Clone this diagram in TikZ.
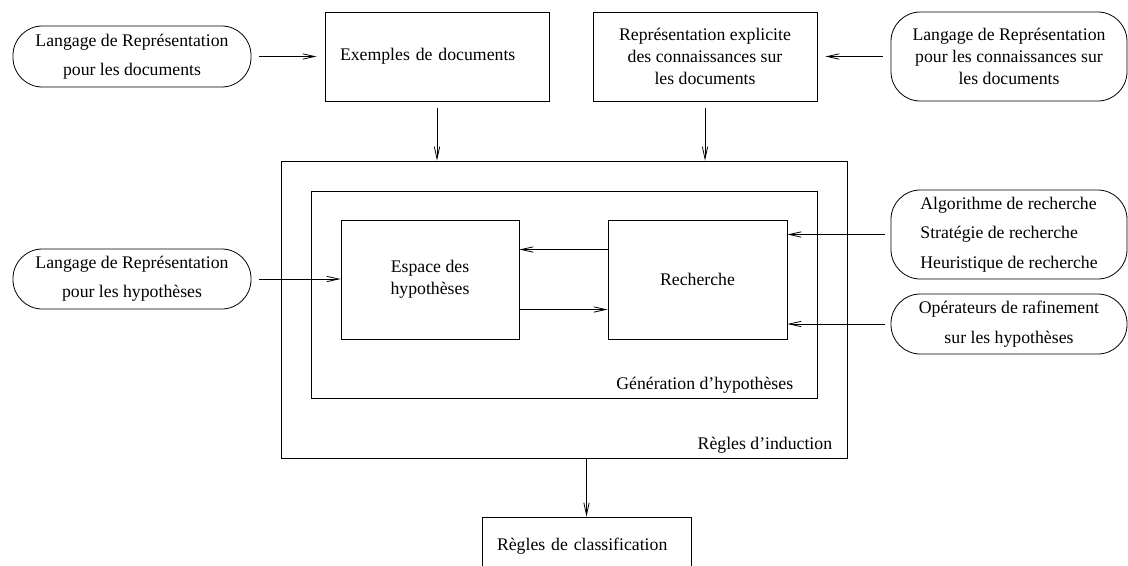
\documentclass[tikz,border=0pt]{standalone}
\usepackage{fontspec}
\setmainfont{Liberation Serif}
\usepackage{tikz}
\usetikzlibrary{arrows.meta,positioning}

\begin{document}
\begin{tikzpicture}
		[x=0.75pt,y=-0.75pt,
		every node/.style={font=\fontsize{13.3pt}{16.5pt}\selectfont},
		box/.style={draw,line width=0.6pt,inner sep=0pt,align=center},
		pill/.style={draw,line width=0.6pt,rounded corners=22pt,inner sep=0pt,align=center,
			font=\fontsize{13.3pt}{22pt}\selectfont},
		tag/.style={inner sep=0pt,anchor=east},
		flow/.style={line width=0.6pt,-{Straight Barb[length=9pt,width=4pt]}}]
		\useasboundingbox (0,0) rectangle (1128,565);
		\node[pill,minimum width=178.5pt,minimum height=45.75pt] (lrdoc) at (132,56.5)
			{Langage de Repr\'esentation\\pour les documents};
		\node[box,minimum width=168pt,minimum height=66.75pt,text width=145.5pt,align=left] (exdoc) at (437,56.5)
			{Exemples de documents};
		\node[box,minimum width=168pt,minimum height=66.75pt] (repexp) at (705,56.5)
			{Repr\'esentation explicite\\des connaissances sur\\les documents};
		\node[pill,minimum width=177pt,minimum height=66.75pt,font=\fontsize{13.3pt}{16.5pt}\selectfont] (lrcon) at (1009,56.5)
			{Langage de Repr\'esentation\\pour les connaissances sur\\les documents};
		\node[box,minimum width=424.5pt,minimum height=222.75pt] (induction) at (564,309.5) {};
		\node[box,minimum width=379.5pt,minimum height=155.25pt] (generation) at (564,294.5) {};
		\node[box,minimum width=133.5pt,minimum height=89.25pt] (espace) at (430,279.5)
			{Espace des\\hypoth\`eses};
		\node[box,minimum width=134.25pt,minimum height=89.25pt] (recherche) at (697.5,279.5)
			{Recherche};
		\node[pill,minimum width=178.5pt,minimum height=45pt] (lrhyp) at (132,279)
			{Langage de Repr\'esentation\\pour les hypoth\`eses};
		\node[pill,minimum width=177pt,minimum height=66.75pt,align=left] (algo) at (1009,234.5)
			{Algorithme de recherche\\Strat\'egie de recherche\\Heuristique de recherche};
		\node[pill,minimum width=177pt,minimum height=45pt] (oper) at (1009,324)
			{Op\'erateurs de rafinement\\sur les hypoth\`eses};
		\node[box,minimum width=156.75pt,minimum height=43.5pt,text width=134.25pt,align=left] (classif) at (586.5,546)
			{R\`egles de classification};
		\node[tag] (indlabel) at ([xshift=-11.25pt,yshift=9.75pt]induction.south east)
			{R\`egles d'induction};
		\node[tag] (genlabel) at ([xshift=-18pt,yshift=9.75pt]generation.south east)
			{G\'en\'eration d'hypoth\`eses};
		\draw[flow,shorten <=6pt,shorten >=6pt] (lrdoc) -- (exdoc);
		\draw[flow,shorten <=6pt,shorten >=6pt] (lrcon) -- (repexp);
		\draw[flow,shorten <=5.25pt] (exdoc.south) -- (exdoc.south |- induction.north);
		\draw[flow,shorten <=5.25pt] (repexp.south) -- (repexp.south |- induction.north);
		\draw[flow,shorten <=6pt] (lrhyp.east) -- (lrhyp.east -| espace.west);
		\draw[flow] ([yshift=22.5pt]recherche.west) -- ([yshift=22.5pt]recherche.west -| espace.east);
		\draw[flow] ([yshift=-22.5pt]espace.east) -- ([yshift=-22.5pt]espace.east -| recherche.west);
		\draw[flow,shorten <=4.5pt] (algo.west) -- (algo.west -| recherche.east);
		\draw[flow,shorten <=4.5pt] (oper.west) -- (oper.west -| recherche.east);
		\draw[flow] (classif.north |- induction.south) -- (classif.north);
\end{tikzpicture}
\end{document}
